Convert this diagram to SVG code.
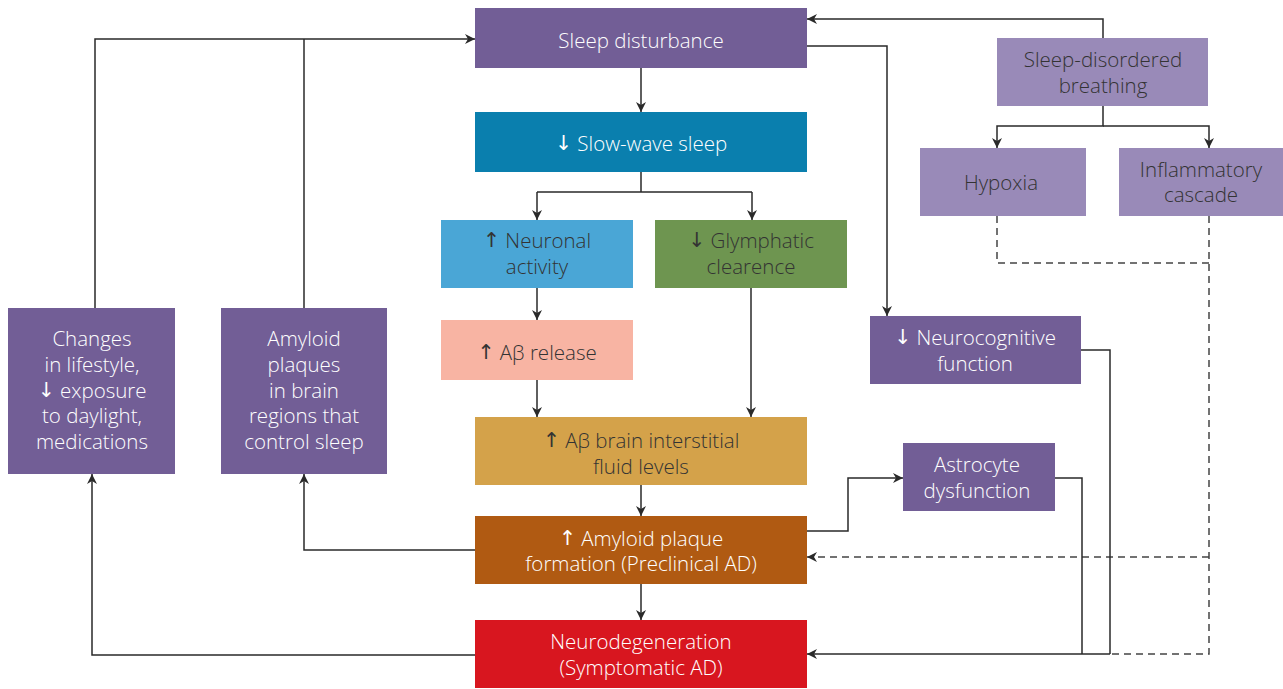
<svg xmlns="http://www.w3.org/2000/svg" width="1283" height="689" viewBox="0 0 1283 689">
<style>
text{font-family:"Open Sans","Liberation Sans",sans-serif;font-size:20.5px;font-weight:300;text-anchor:middle;dominant-baseline:central}
.ar{font-family:"DejaVu Sans",sans-serif;font-weight:normal}
.w{fill:#fff}
.d{fill:#333}
.c{fill:none;stroke:#2a2a2a;stroke-width:1.5}
.ds{fill:none;stroke:#444;stroke-width:1.5;stroke-dasharray:7,5}
</style>
<defs>
<marker id="a" viewBox="0 0 10 10" refX="10" refY="5" markerWidth="10" markerHeight="10" markerUnits="userSpaceOnUse" orient="auto">
<path d="M0,0 L10,5 L0,10 L3,5 z" fill="#2a2a2a"/>
</marker>
</defs>
<rect width="1283" height="689" fill="#fff"/>
<g id="connectors">
<path class="c" d="M641,68 V112" marker-end="url(#a)"/>
<path class="c" d="M641,172 V192 M537,192 H752"/>
<path class="c" d="M537,192 V220" marker-end="url(#a)"/>
<path class="c" d="M752,192 V220" marker-end="url(#a)"/>
<path class="c" d="M537,288 V320" marker-end="url(#a)"/>
<path class="c" d="M537,380 V417" marker-end="url(#a)"/>
<path class="c" d="M751,288 V417" marker-end="url(#a)"/>
<path class="c" d="M641,485 V516" marker-end="url(#a)"/>
<path class="c" d="M641,584 V620" marker-end="url(#a)"/>
<path class="c" d="M807,46 H887 V316" marker-end="url(#a)"/>
<path class="c" d="M1103,38 V19 H807" marker-end="url(#a)"/>
<path class="c" d="M1103,106 V126 H997 V148" marker-end="url(#a)"/>
<path class="c" d="M1103,126 H1209 V148" marker-end="url(#a)"/>
<path class="ds" d="M997,216 V263 H1209"/>
<path class="ds" d="M1209,216 V654 H1110"/>
<path class="ds" d="M1209,557 H807" marker-end="url(#a)"/>
<path class="c" d="M1081,350 H1110 V654"/>
<path class="c" d="M1055,478 H1082 V654"/>
<path class="c" d="M1110,654 H807" marker-end="url(#a)"/>
<path class="c" d="M807,531 H848 V478 H903" marker-end="url(#a)"/>
<path class="c" d="M475,550 H304 V474" marker-end="url(#a)"/>
<path class="c" d="M475,655 H92 V474" marker-end="url(#a)"/>
<path class="c" d="M95,308 V39 H475" marker-end="url(#a)"/>
<path class="c" d="M304,308 V39"/>
</g>
<g id="sleep-disturbance"><rect x="475" y="8" width="332" height="60" fill="#725e96"/><text class="w" x="641" y="40">Sleep disturbance</text></g>
<g id="slow-wave-sleep"><rect x="475" y="112" width="332" height="60" fill="#0a7fae"/><text class="w" x="641" y="143"><tspan class="ar">↓</tspan> Slow-wave sleep</text></g>
<g id="neuronal-activity"><rect x="441" y="220" width="192" height="68" fill="#4aa6d6"/><text class="d" x="537" y="240"><tspan class="ar">↑</tspan> Neuronal</text><text class="d" x="537" y="266">activity</text></g>
<g id="glymphatic"><rect x="655" y="220" width="192" height="68" fill="#6e9550"/><text class="d" x="751" y="240"><tspan class="ar">↓</tspan> Glymphatic</text><text class="d" x="751" y="266">clearence</text></g>
<g id="abeta-release"><rect x="441" y="320" width="192" height="60" fill="#f8b4a3"/><text class="d" x="537" y="352"><tspan class="ar">↑</tspan> Aβ release</text></g>
<g id="abeta-isf"><rect x="475" y="417" width="332" height="68" fill="#d4a24a"/><text class="d" x="641" y="440"><tspan class="ar">↑</tspan> Aβ brain interstitial</text><text class="d" x="641" y="466">fluid  levels</text></g>
<g id="plaque-formation"><rect x="475" y="516" width="332" height="68" fill="#b05a12"/><text class="w" x="641" y="538"><tspan class="ar">↑</tspan> Amyloid plaque</text><text class="w" x="641" y="563">formation (Preclinical AD)</text></g>
<g id="neurodegeneration"><rect x="475" y="620" width="332" height="68" fill="#d8161f"/><text class="w" x="641" y="641">Neurodegeneration</text><text class="w" x="641" y="667">(Symptomatic AD)</text></g>
<g id="lifestyle"><rect x="8" y="308" width="167" height="166" fill="#725e96"/><text class="w" x="92" y="338">Changes</text><text class="w" x="92" y="364">in lifestyle,</text><text class="w" x="92" y="390"><tspan class="ar">↓</tspan> exposure</text><text class="w" x="92" y="415">to daylight,</text><text class="w" x="92" y="441">medications</text></g>
<g id="amyloid-plaques-sleep"><rect x="221" y="308" width="166" height="166" fill="#725e96"/><text class="w" x="304" y="338">Amyloid</text><text class="w" x="304" y="364">plaques</text><text class="w" x="304" y="390">in brain</text><text class="w" x="304" y="415">regions that</text><text class="w" x="304" y="441">control sleep</text></g>
<g id="sdb"><rect x="997" y="38" width="211" height="68" fill="#998ab8"/><text class="d" x="1103" y="59">Sleep-disordered</text><text class="d" x="1103" y="85">breathing</text></g>
<g id="hypoxia"><rect x="920" y="148" width="166" height="68" fill="#998ab8"/><text class="d" x="1001" y="182">Hypoxia</text></g>
<g id="inflammatory"><rect x="1119" y="148" width="164" height="68" fill="#998ab8"/><text class="d" x="1201" y="169">Inflammatory</text><text class="d" x="1201" y="194">cascade</text></g>
<g id="neurocognitive"><rect x="870" y="316" width="211" height="68" fill="#725e96"/><text class="w" x="975" y="337"><tspan class="ar">↓</tspan> Neurocognitive</text><text class="w" x="975" y="363">function</text></g>
<g id="astrocyte"><rect x="903" y="443" width="152" height="68" fill="#725e96"/><text class="w" x="977" y="464">Astrocyte</text><text class="w" x="977" y="490">dysfunction</text></g>
</svg>
